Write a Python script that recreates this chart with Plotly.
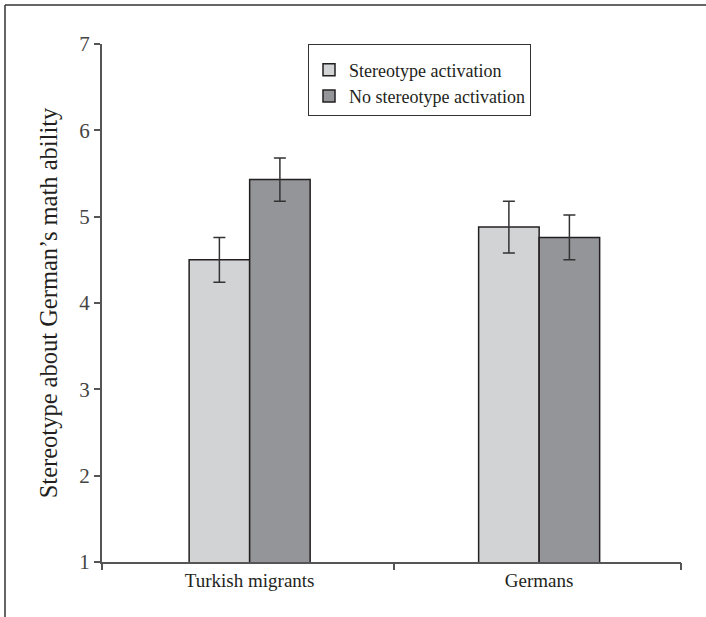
import plotly.graph_objects as go

# Mean ratings by group and condition, with error-bar half-widths
groups = ["Turkish migrants", "Germans"]
activation_means = [4.50, 4.88]
activation_err = [0.26, 0.30]
no_activation_means = [5.43, 4.76]
no_activation_err = [0.25, 0.26]
y_ticks = [1, 2, 3, 4, 5, 6, 7]

W, H = 706, 617
L, R, T, B = 102, 25, 44, 55
pw, ph = W - L - R, H - T - B

font_family = "Liberation Serif, Times New Roman, serif"
edge = "#231f20"
xpos = list(range(len(groups)))
x_lo, x_hi = -0.51, 1.49

fig = go.Figure()
fig.add_trace(go.Bar(
    x=xpos, y=activation_means, name="Stereotype activation",
    marker=dict(color="#d2d3d5", line=dict(color=edge, width=1.5)),
    error_y=dict(type="data", array=activation_err, color="#333333", thickness=1.5, width=6),
))
fig.add_trace(go.Bar(
    x=xpos, y=no_activation_means, name="No stereotype activation",
    marker=dict(color="#939598", line=dict(color=edge, width=1.5)),
    error_y=dict(type="data", array=no_activation_err, color="#333333", thickness=1.5, width=6),
))
# invisible trace to carry the boundary-tick axis
fig.add_trace(go.Scatter(x=[x_lo, x_hi], y=[1, 1], xaxis="x2", mode="markers",
                         marker=dict(opacity=0), showlegend=False, hoverinfo="skip"))

fig.update_layout(
    width=W, height=H,
    margin=dict(l=L, r=R, t=T, b=B),
    paper_bgcolor="white", plot_bgcolor="white",
    barmode="group", bargap=0.582, bargroupgap=0,
    font=dict(family=font_family, color="#333333"),
    showlegend=True,
    legend=dict(
        x=(308 - L) / pw, y=1.0, xanchor="left", yanchor="top",
        bordercolor="#333333", borderwidth=1, bgcolor="white",
        font=dict(size=18, family=font_family, color="#231f20"),
        itemwidth=30,
        title=dict(text=" ", font=dict(size=5)),
    ),
    xaxis=dict(
        range=[x_lo, x_hi], tickmode="array", tickvals=xpos, ticktext=groups,
        ticks="", showgrid=False, zeroline=False,
        showline=True, linecolor="#555555", linewidth=2,
        tickfont=dict(size=19, color="#231f20"),
    ),
    xaxis2=dict(
        range=[x_lo, x_hi], overlaying="x", side="bottom",
        tickmode="array", tickvals=[x_lo, 0.5, x_hi], showticklabels=False,
        ticks="outside", ticklen=7, tickwidth=2, tickcolor="#555555",
        showgrid=False, zeroline=False, showline=False,
    ),
    yaxis=dict(
        range=[1, 7], tickmode="array", tickvals=y_ticks,
        ticks="outside", ticklen=6, tickwidth=1.5, tickcolor="#555555",
        showgrid=False, zeroline=False,
        showline=True, linecolor="#555555", linewidth=2,
        tickfont=dict(size=21, color="#444444"),
        title=dict(text="Stereotype about German\u2019s math ability",
                   font=dict(size=24.5, color="#231f20"), standoff=15),
    ),
)

# outer frame (top and left edges)
fx0 = (5 - L) / pw
fy0 = 1 + (T - 5) / ph
fig.add_shape(type="line", xref="paper", yref="paper",
              x0=fx0, y0=fy0, x1=(W - L) / pw, y1=fy0,
              line=dict(color="#333333", width=1.5))
fig.add_shape(type="line", xref="paper", yref="paper",
              x0=fx0, y0=fy0, x1=fx0, y1=-(B) / ph,
              line=dict(color="#333333", width=1.5))

fig.write_html("out.html")
